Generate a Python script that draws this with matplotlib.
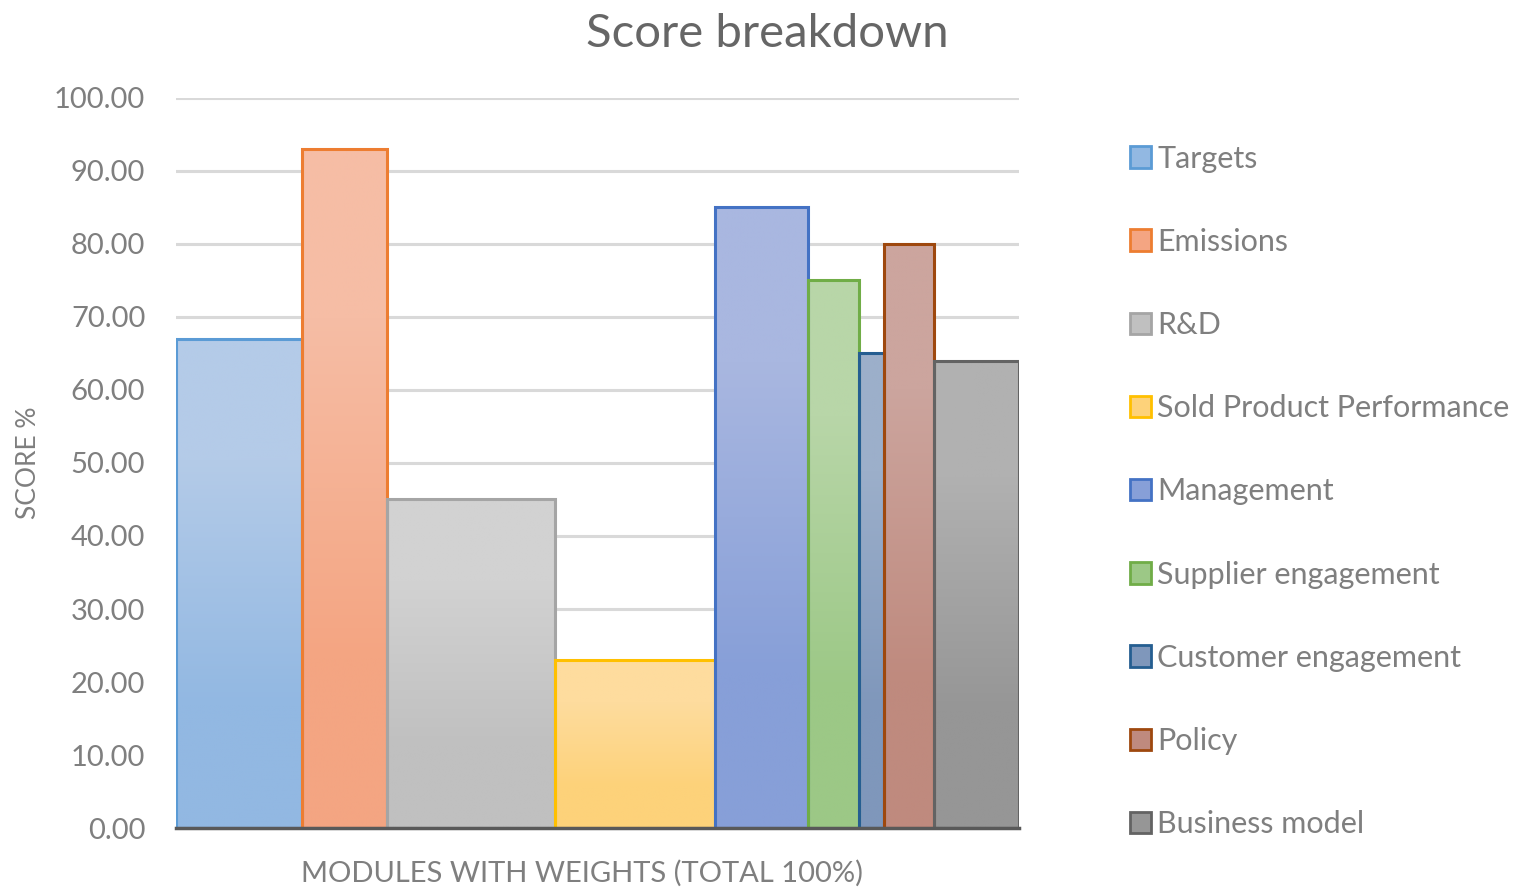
import numpy as np
import matplotlib
matplotlib.use("Agg")
import matplotlib.pyplot as plt
from matplotlib.patches import Patch
from matplotlib.colors import to_rgb

# Data
modules = ["Targets", "Emissions", "R&D", "Sold Product Performance", "Management",
           "Supplier engagement", "Customer engagement", "Policy", "Business model"]
weights = [15, 10, 20, 19, 11, 6, 3, 6, 10]   # % of total width
scores = [67, 93, 45, 23, 85, 75, 65, 80, 64]
yticks = [0, 10, 20, 30, 40, 50, 60, 70, 80, 90, 100]

edge_colors = ["#5B9BD5", "#ED7D31", "#A5A5A5", "#FFC000", "#4472C4",
               "#70AD47", "#255E91", "#9E480E", "#636363"]
top_colors = ["#B4CBE8", "#F6BDA5", "#D2D2D2", "#FEDC9E", "#A9B7E0",
              "#B8D6A8", "#9CAFCA", "#CCA59E", "#B1B1B1"]
bottom_colors = ["#92B8E2", "#F4A582", "#C0C0C0", "#FDD27A", "#879FD8",
                 "#9CC886", "#7F97BB", "#BF8A7E", "#969696"]

plt.rcParams['font.family'] = ['Lato', 'DejaVu Sans']
text_grey = "#7F7F7F"

fig = plt.figure(figsize=(15.16, 8.89), dpi=100)
ax = fig.add_axes([0.116, 0.0686, 0.556, 0.8212])

lefts = np.concatenate([[0], np.cumsum(weights)[:-1]])

# gradient fills, then outlined bars on top
for i, (x0, w, h) in enumerate(zip(lefts, weights, scores)):
    grad = np.array([to_rgb(top_colors[i]), to_rgb(bottom_colors[i])]).reshape(2, 1, 3)
    ax.imshow(grad, extent=(x0, x0 + w, 0, h), aspect='auto',
              interpolation='bilinear', zorder=2)
    ax.bar(x0, h, width=w, align='edge', fill=False,
           edgecolor=edge_colors[i], linewidth=2.2, zorder=3)

ax.set_xlim(0, sum(weights))
ax.set_ylim(0, 100)
ax.set_yticks(yticks)
ax.set_yticklabels([f"{v:.2f}" for v in yticks])
ax.set_xticks([])
ax.tick_params(axis='y', length=0, pad=22, labelsize=21, labelcolor=text_grey)

ax.grid(True, axis='y', color="#D9D9D9", linewidth=2.2, zorder=0)
ax.set_axisbelow(True)
for side in ['top', 'right', 'left']:
    ax.spines[side].set_visible(False)
ax.spines['bottom'].set_color("#595959")
ax.spines['bottom'].set_linewidth(2.5)
ax.spines['bottom'].set_zorder(4)

ax.set_ylabel("SCORE %", fontsize=19, color=text_grey)
ax.yaxis.set_label_coords(-0.16, 0.5)
xl = ax.set_xlabel("MODULES WITH WEIGHTS (TOTAL 100%)", fontsize=21, color=text_grey)
xl.set_va('center')
ax.xaxis.set_label_coords(0.482, -0.062)

fig.text(0.506, 0.962, "Score breakdown", ha='center', va='center',
         fontsize=34, color="#666666")

handles = [Patch(facecolor=bottom_colors[i], edgecolor=edge_colors[i], linewidth=2)
           for i in range(len(modules))]
leg = fig.legend(handles, modules, loc='upper left', bbox_to_anchor=(0.737, 0.851),
                 frameon=False, fontsize=22, labelcolor=text_grey,
                 handlelength=0.7, handleheight=0.7, handletextpad=0.2,
                 labelspacing=1.806, borderaxespad=0)

fig.savefig("out.png", dpi=100)
